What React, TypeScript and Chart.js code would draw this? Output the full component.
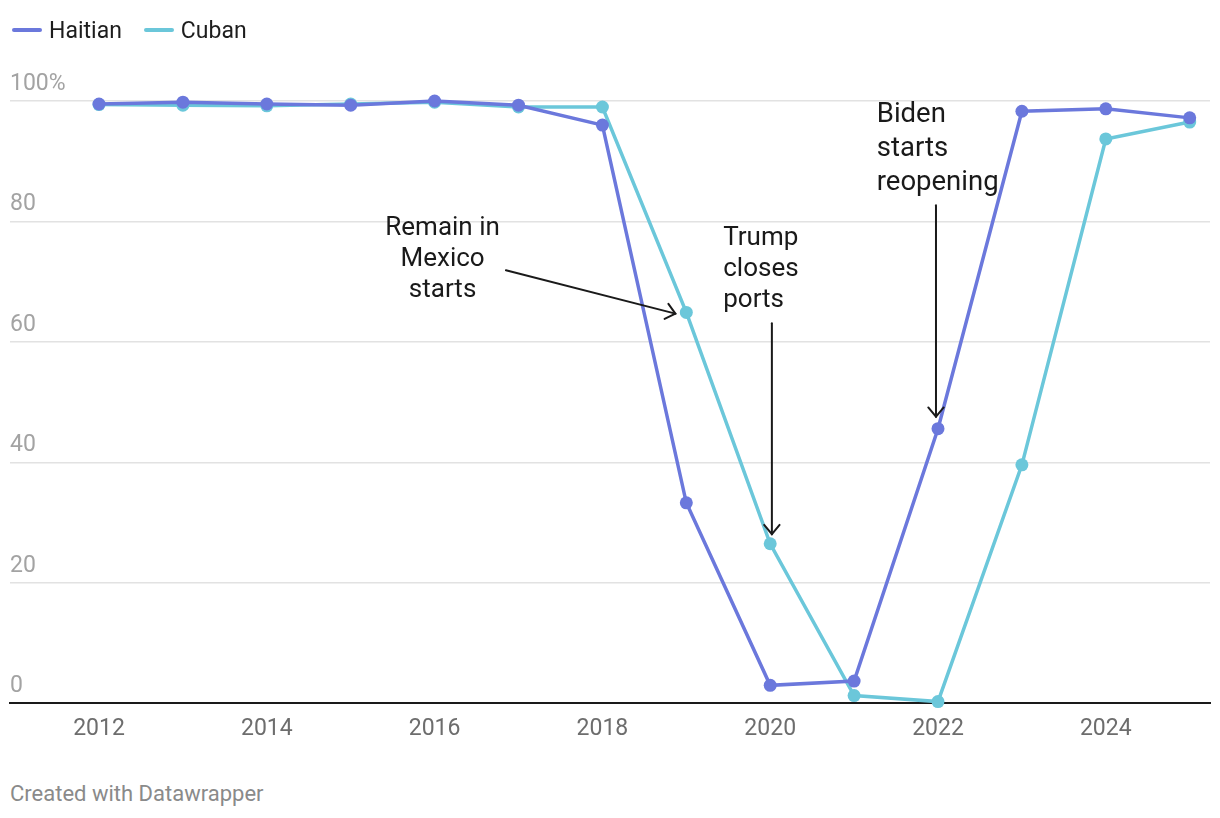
import React, { useEffect, useRef } from "react";
import { Chart, registerables } from "chart.js";

Chart.register(...registerables);

const years = [2012, 2013, 2014, 2015, 2016, 2017, 2018, 2019, 2020, 2021, 2022, 2023, 2024, 2025];
const haitian = [99.5, 99.8, 99.5, 99.3, 100, 99.3, 96, 33.3, 3.0, 3.7, 45.6, 98.3, 98.7, 97.2];
const cuban = [99.4, 99.3, 99.2, 99.5, 99.8, 99.0, 99.0, 64.9, 26.5, 1.3, 0.3, 39.6, 93.7, 96.5];
const xTickLabels = [2012, 2014, 2016, 2018, 2020, 2022, 2024];
const yTickValues = [0, 20, 40, 60, 80, 100];

const HAITIAN_COLOR = "#6b78dc";
const CUBAN_COLOR = "#6bc7da";
const FONT = "Roboto, 'Noto Sans', sans-serif";

type Note = {
  lines: string[];
  x: number;
  y: number;
  align: CanvasTextAlign;
  lineGap: number;
  size: number;
  from: [number, number];
  to: [number, number];
};

const notes: Note[] = [
  { lines: ["Remain in", "Mexico", "starts"], x: 2016.095, y: 78.9, align: "center", lineGap: 31, size: 26, from: [2016.85, 71.9], to: [2018.87, 64.7] },
  { lines: ["Trump", "closes", "ports"], x: 2019.44, y: 77.1, align: "left", lineGap: 31, size: 26, from: [2020.02, 63.1], to: [2020.02, 28.1] },
  { lines: ["Biden", "starts", "reopening"], x: 2021.27, y: 97.6, align: "left", lineGap: 34, size: 27.5, from: [2021.976, 82.7], to: [2021.976, 47.6] },
];

const annotationPlugin = {
  id: "notes",
  afterDraw(chart: any) {
    const { ctx, scales } = chart;
    const xs = scales.x;
    const ys = scales.y;
    ctx.save();
    ctx.fillStyle = "#1a1a1a";
    ctx.strokeStyle = "#1a1a1a";
    ctx.textBaseline = "middle";
    for (const n of notes) {
      ctx.font = `${n.size}px ${FONT}`;
      ctx.textAlign = n.align;
      const px = xs.getPixelForValue(n.x);
      const py = ys.getPixelForValue(n.y);
      n.lines.forEach((l, i) => ctx.fillText(l, px, py + i * n.lineGap));
      const x1 = xs.getPixelForValue(n.from[0]);
      const y1 = ys.getPixelForValue(n.from[1]);
      const x2 = xs.getPixelForValue(n.to[0]);
      const y2 = ys.getPixelForValue(n.to[1]);
      ctx.lineWidth = 2;
      ctx.lineCap = "round";
      ctx.beginPath();
      ctx.moveTo(x1, y1);
      ctx.lineTo(x2, y2);
      ctx.stroke();
      const ang = Math.atan2(y2 - y1, x2 - x1);
      const len = 12;
      const spread = Math.PI / 4.5;
      ctx.beginPath();
      ctx.moveTo(x2 - len * Math.cos(ang - spread), y2 - len * Math.sin(ang - spread));
      ctx.lineTo(x2, y2);
      ctx.lineTo(x2 - len * Math.cos(ang + spread), y2 - len * Math.sin(ang + spread));
      ctx.stroke();
    }
    ctx.restore();
  },
};

export default function App() {
  const canvasRef = useRef<HTMLCanvasElement | null>(null);

  useEffect(() => {
    if (!canvasRef.current) return;
    const chart = new Chart(canvasRef.current, {
      type: "line",
      data: {
        datasets: [
          {
            label: "Haitian",
            data: years.map((y, i) => ({ x: y, y: haitian[i] })),
            borderColor: HAITIAN_COLOR,
            backgroundColor: HAITIAN_COLOR,
            borderWidth: 3.5,
            pointRadius: 6.5,
            pointBorderWidth: 0,
            pointHoverRadius: 6.5,
            clip: false as any,
          },
          {
            label: "Cuban",
            data: years.map((y, i) => ({ x: y, y: cuban[i] })),
            borderColor: CUBAN_COLOR,
            backgroundColor: CUBAN_COLOR,
            borderWidth: 3.5,
            pointRadius: 6.5,
            pointBorderWidth: 0,
            pointHoverRadius: 6.5,
            clip: false as any,
          },
        ],
      },
      options: {
        animation: false,
        responsive: true,
        maintainAspectRatio: false,
        layout: { autoPadding: false, padding: { left: 2, right: 2, top: 93, bottom: 8 } },
        plugins: {
          legend: { display: false },
          tooltip: { enabled: false },
        },
        scales: {
          x: {
            type: "linear",
            min: 2010.939,
            max: 2025.242,
            afterBuildTicks: (axis: any) => {
              axis.ticks = xTickLabels.map((v) => ({ value: v }));
            },
            ticks: {
              callback: (v: any) => String(v),
              color: "#6d6d6d",
              font: { family: FONT, size: 23 },
              padding: 12,
              maxRotation: 0,
              autoSkip: false,
            },
            grid: { display: false, drawTicks: false },
            border: { display: true, color: "#1a1a1a", width: 2 },
          },
          y: {
            min: 0,
            max: 100,
            afterBuildTicks: (axis: any) => {
              axis.ticks = yTickValues.map((v) => ({ value: v }));
            },
            afterFit: (axis: any) => {
              axis.width = 0;
            },
            ticks: {
              mirror: true,
              padding: 0,
              labelOffset: -17,
              color: "#a3a3a3",
              font: { family: FONT, size: 23 },
              callback: (v: any) => (v === 100 ? "100%" : String(v)),
            },
            grid: {
              drawTicks: false,
              color: (c: any) => (c.tick && c.tick.value === 0 ? "rgba(0,0,0,0)" : "#e2e2e2"),
              lineWidth: 1.5,
            },
            border: { display: false },
          },
        },
      },
      plugins: [annotationPlugin],
    });
    return () => chart.destroy();
  }, []);

  const legendItem = (color: string, label: string) => (
    <div style={{ display: "flex", alignItems: "center", marginRight: 22 }}>
      <div style={{ width: 30, height: 4, borderRadius: 2, background: color, marginRight: 7 }} />
      <span style={{ fontSize: 23, color: "#1d1d1d" }}>{label}</span>
    </div>
  );

  return (
    <div style={{ position: "relative", width: 1204, height: 802, fontFamily: FONT }}>
      <div style={{ position: "absolute", left: 4, top: 8, display: "flex", alignItems: "center", height: 28, zIndex: 2 }}>
        {legendItem(HAITIAN_COLOR, "Haitian")}
        {legendItem(CUBAN_COLOR, "Cuban")}
      </div>
      <div style={{ position: "absolute", left: 0, top: 0, width: 1204, height: 755 }}>
        <canvas ref={canvasRef} />
      </div>
      <div style={{ position: "absolute", left: 2, top: 773, fontSize: 22, color: "#8a8a8a" }}>
        Created with Datawrapper
      </div>
    </div>
  );
}
